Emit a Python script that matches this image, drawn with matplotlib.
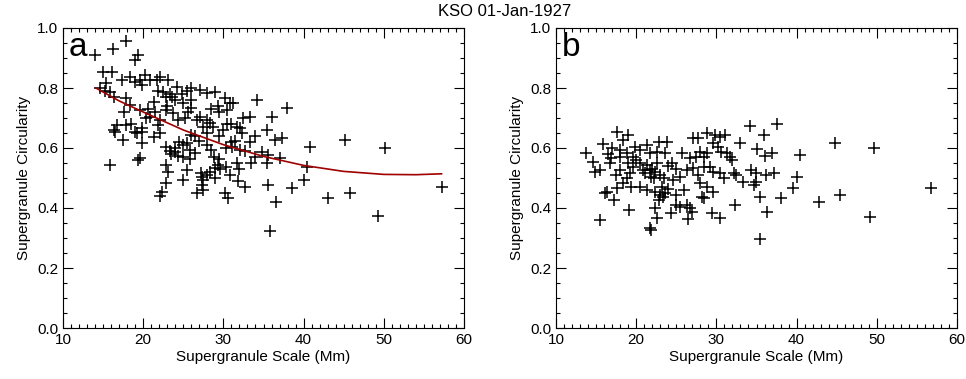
import numpy as np
import matplotlib
matplotlib.use('Agg')
import matplotlib.pyplot as plt
from matplotlib.ticker import MultipleLocator

plt.rcParams['font.family'] = ['Liberation Sans Narrow', 'Liberation Sans', 'DejaVu Sans']

# panel a: scale (Mm) vs circularity
scale_a = [14.0, 16.2, 17.8, 19.0, 19.4, 15.0, 16.1, 15.4, 14.6, 15.2, 15.9, 16.3, 17.3, 18.4,
           19.0, 19.6, 20.2, 19.8, 20.8, 21.7, 22.1, 23.1, 24.2, 22.5, 22.8, 21.9, 17.9, 18.4,
           17.6, 20.6, 19.6, 21.3, 20.8, 22.1, 22.8, 23.7, 24.3, 24.0, 23.4, 23.6, 27.1, 27.9,
           29.0, 30.2, 30.8, 31.2, 30.5, 34.2, 37.9, 33.3, 36.0, 26.0, 26.7, 27.1, 27.9, 28.3,
           27.5, 25.2, 25.6, 16.7, 17.9, 16.3, 17.5, 19.2, 19.8, 18.5, 21.3, 22.1, 22.9, 23.3,
           24.0, 24.5, 25.4, 26.0, 26.5, 27.9, 28.7, 29.5, 30.0, 30.5, 31.7, 31.0, 32.1, 32.3,
           31.5, 31.0, 30.3, 28.5, 28.0, 27.0, 25.8, 23.5, 24.3, 25.0, 25.8, 28.8, 29.5, 31.1,
           35.4, 36.4, 37.3, 33.5, 34.8, 35.6, 37.1, 35.4, 40.8, 40.4, 45.2, 50.1, 15.9, 19.6,
           22.8, 25.4, 27.2, 23.1, 30.3, 29.6, 28.3, 40.0, 35.6, 32.7, 38.5, 57.2, 30.2, 30.6,
           36.6, 43.1, 45.8, 49.3, 35.8, 27.5, 27.3, 22.1, 22.3, 22.9, 25.0, 26.7, 26.5, 25.0,
           24.0, 19.8, 19.4, 19.0, 19.8, 21.9, 16.5, 20.3, 21.5, 23.0, 25.0, 26.0, 24.8, 25.5,
           26.0, 28.5, 29.3, 29.5, 32.5, 34.0, 33.3, 32.7, 31.7, 32.0, 34.0, 29.0, 30.8, 31.8,
           27.3, 27.5, 28.9, 29.3, 27.9, 32.1]
circ_a = [0.910, 0.930, 0.958, 0.895, 0.910, 0.854, 0.854, 0.816, 0.800, 0.790, 0.788, 0.771, 0.827, 0.838,
          0.821, 0.827, 0.843, 0.810, 0.827, 0.827, 0.838, 0.827, 0.804, 0.788, 0.770, 0.790, 0.766, 0.743,
          0.720, 0.730, 0.727, 0.754, 0.704, 0.693, 0.727, 0.716, 0.693, 0.760, 0.780, 0.770, 0.793, 0.782,
          0.788, 0.766, 0.750, 0.749, 0.727, 0.760, 0.732, 0.704, 0.704, 0.732, 0.693, 0.704, 0.693, 0.682,
          0.671, 0.700, 0.720, 0.677, 0.677, 0.660, 0.627, 0.649, 0.666, 0.680, 0.638, 0.649, 0.604, 0.590,
          0.600, 0.620, 0.616, 0.643, 0.640, 0.649, 0.671, 0.640, 0.660, 0.680, 0.671, 0.680, 0.666, 0.650,
          0.625, 0.620, 0.600, 0.593, 0.610, 0.625, 0.595, 0.580, 0.575, 0.570, 0.565, 0.570, 0.565, 0.604,
          0.660, 0.627, 0.632, 0.549, 0.588, 0.577, 0.566, 0.550, 0.602, 0.538, 0.627, 0.599, 0.543, 0.566,
          0.543, 0.527, 0.516, 0.521, 0.538, 0.530, 0.520, 0.493, 0.477, 0.471, 0.466, 0.471, 0.449, 0.433,
          0.421, 0.432, 0.449, 0.373, 0.324, 0.493, 0.505, 0.440, 0.452, 0.482, 0.493, 0.449, 0.582, 0.610,
          0.588, 0.616, 0.560, 0.654, 0.654, 0.677, 0.654, 0.700, 0.720, 0.740, 0.750, 0.760, 0.780, 0.790,
          0.800, 0.730, 0.740, 0.720, 0.700, 0.640, 0.620, 0.590, 0.550, 0.530, 0.570, 0.500, 0.510, 0.490,
          0.477, 0.460, 0.532, 0.543, 0.510, 0.593]

# fitted curve in panel a
fit_scale = [14.1, 17.0, 20.0, 25.0, 30.0, 35.0, 40.0, 45.0, 50.0, 54.0, 57.2]
fit_circ = [0.800, 0.757, 0.720, 0.660, 0.611, 0.572, 0.542, 0.522, 0.512, 0.511, 0.514]

# panel b
scale_b = [13.7, 14.6, 15.9, 15.5, 14.9, 17.6, 19.0, 18.4, 16.1, 16.4, 17.6, 17.2, 15.5, 19.1,
           16.9, 16.7, 18.0, 18.8, 19.6, 19.9, 20.5, 21.3, 21.7, 22.6, 22.8, 23.8, 23.6, 18.0,
           19.2, 19.6, 20.5, 20.9, 21.1, 21.7, 22.6, 18.4, 19.4, 20.5, 21.3, 22.3, 23.0, 23.4,
           22.8, 21.7, 21.9, 22.6, 22.3, 24.4, 25.0, 25.5, 26.3, 26.7, 26.9, 26.5, 25.0, 25.9,
           24.6, 25.5, 26.3, 27.1, 27.7, 25.7, 26.7, 27.5, 27.9, 28.8, 27.1, 27.7, 28.8, 29.8,
           30.4, 31.1, 29.6, 30.2, 30.6, 31.3, 31.7, 28.4, 29.2, 29.6, 30.4, 30.9, 32.5, 27.9,
           28.8, 28.2, 28.4, 29.6, 29.4, 30.4, 32.3, 33.0, 20.0, 21.4, 22.0, 22.4, 21.8, 22.2,
           23.0, 23.5, 24.0, 24.5, 25.0, 23.2, 24.0, 23.6, 19.0, 18.8, 17.5, 16.5, 17.0, 18.0,
           34.2, 37.5, 35.9, 44.8, 49.7, 35.0, 36.9, 36.1, 40.4, 31.9, 32.2, 34.3, 34.9, 36.2,
           37.2, 40.0, 33.3, 34.9, 34.7, 39.6, 35.4, 38.1, 42.8, 45.4, 56.8, 36.3, 49.1, 35.4,
           28.4]
circ_b = [0.584, 0.554, 0.615, 0.527, 0.520, 0.655, 0.643, 0.627, 0.450, 0.455, 0.466, 0.427, 0.360, 0.395,
          0.566, 0.549, 0.571, 0.582, 0.571, 0.604, 0.593, 0.610, 0.582, 0.588, 0.621, 0.621, 0.582, 0.527,
          0.516, 0.538, 0.549, 0.527, 0.516, 0.527, 0.549, 0.482, 0.471, 0.471, 0.460, 0.454, 0.443, 0.438,
          0.427, 0.332, 0.327, 0.366, 0.399, 0.382, 0.410, 0.404, 0.410, 0.399, 0.388, 0.365, 0.443, 0.460,
          0.493, 0.504, 0.527, 0.532, 0.510, 0.582, 0.566, 0.571, 0.588, 0.582, 0.632, 0.632, 0.649, 0.643,
          0.638, 0.643, 0.616, 0.604, 0.588, 0.582, 0.571, 0.538, 0.538, 0.521, 0.516, 0.499, 0.510, 0.482,
          0.471, 0.438, 0.432, 0.454, 0.382, 0.366, 0.410, 0.616, 0.560, 0.545, 0.530, 0.520, 0.505, 0.500,
          0.510, 0.500, 0.540, 0.550, 0.530, 0.470, 0.465, 0.450, 0.550, 0.500, 0.510, 0.580, 0.600, 0.595,
          0.673, 0.680, 0.643, 0.618, 0.599, 0.596, 0.582, 0.573, 0.577, 0.560, 0.516, 0.527, 0.516, 0.510,
          0.516, 0.504, 0.488, 0.488, 0.477, 0.466, 0.436, 0.432, 0.421, 0.443, 0.466, 0.388, 0.371, 0.297,
          0.571]

title = 'KSO 01-Jan-1927'
xlabel = 'Supergranule Scale (Mm)'
ylabel = 'Supergranule Circularity'

fig = plt.figure(figsize=(9.66, 3.79), dpi=100)
ax1 = fig.add_axes([63/966, 51/379, 401/966, 300/379])
ax2 = fig.add_axes([556/966, 51/379, 401/966, 300/379])

ax1.plot(scale_a, circ_a, '+', color='black', ms=8, mew=1.1)
ax1.plot(fit_scale, fit_circ, '-', color='#a00000', lw=1.2)
ax2.plot(scale_b, circ_b, '+', color='black', ms=8, mew=1.1)

for ax, letter in zip([ax1, ax2], ['a', 'b']):
    ax.set_xlim(10, 60)
    ax.set_ylim(0, 1)
    ax.xaxis.set_major_locator(MultipleLocator(10))
    ax.xaxis.set_minor_locator(MultipleLocator(1))
    ax.yaxis.set_major_locator(MultipleLocator(0.2))
    ax.yaxis.set_minor_locator(MultipleLocator(0.05))
    ax.yaxis.set_major_formatter(matplotlib.ticker.FormatStrFormatter('%.1f'))
    ax.tick_params(which='both', direction='in', top=True, right=True, width=0.8, labelsize=11)
    ax.tick_params(which='major', length=7)
    ax.tick_params(which='minor', length=3)
    for s in ax.spines.values():
        s.set_linewidth(0.8)
    ax.set_xlabel(xlabel, fontsize=11, labelpad=2)
    ax.set_ylabel(ylabel, fontsize=11, labelpad=4)
    ax.text(0.015, 0.985, letter, transform=ax.transAxes, fontsize=24, va='top', ha='left')

fig.text(505/966, 1 - 12/379, title, fontsize=12, ha='center', va='center')

fig.savefig('out.png', dpi=100)
